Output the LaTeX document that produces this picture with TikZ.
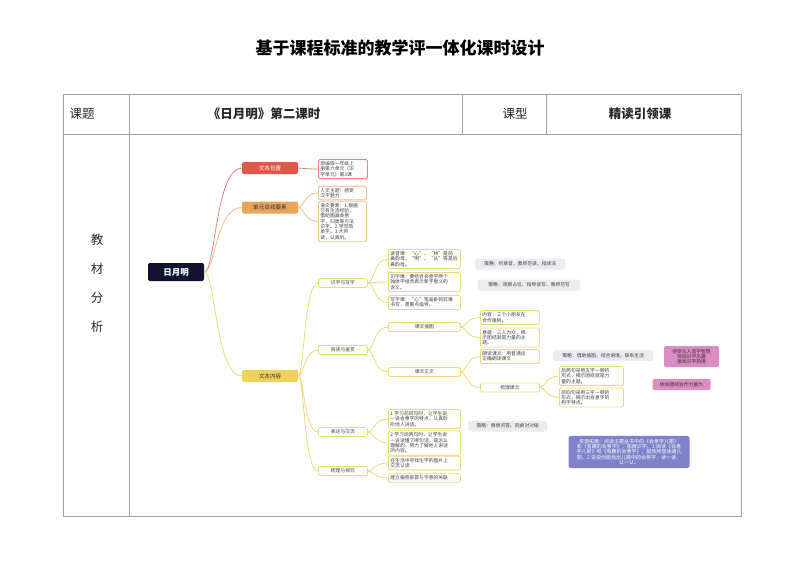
\documentclass[tikz,border=0pt]{standalone}
\usepackage{fontspec}
\setmainfont{Noto Sans CJK SC}
\usepackage{xcolor}
\usepackage{tikz}
\usetikzlibrary{calc}
\definecolor{navy}{HTML}{0F1230}
\definecolor{redfill}{HTML}{E2574C}
\definecolor{orangefill}{HTML}{E9A45A}
\definecolor{yellowfill}{HTML}{EFD25A}
\definecolor{redline}{HTML}{E9847A}
\definecolor{orangeline}{HTML}{F1C086}
\definecolor{yellowline}{HTML}{F0D878}
\definecolor{hintgray}{HTML}{ECECF0}
\definecolor{pinkfill}{HTML}{DC8CC4}
\definecolor{purplefill}{HTML}{7E82CA}
\definecolor{gridgray}{HTML}{A0A0A0}
\newcommand\leaffont{\fontsize{4.8pt}{5.3pt}\selectfont}

\begin{document}
\begin{tikzpicture}[x=1pt,y=-1pt,
  tableline/.style={draw=gridgray,line width=0.6pt},
  cell/.style={font=\fontsize{12.5}{14}\selectfont,text=black!85},
  root/.style={fill=navy,text=white,rounded corners=2pt,minimum width=56pt,minimum height=18pt,font=\fontsize{8.5}{9}\selectfont\bfseries},
  topic/.style={rounded corners=2pt,minimum width=56pt,minimum height=12pt,inner sep=1pt,font=\fontsize{5.6}{6}\selectfont},
  sub/.style={draw=yellowline,line width=0.8pt,fill=white,rounded corners=1.5pt,minimum height=9pt,inner sep=1pt,anchor=west,font=\leaffont,text=black!75},
  leaf/.style={draw=#1,line width=0.8pt,fill=white,rounded corners=1.5pt,align=left,inner sep=2pt,anchor=west,font=\leaffont,text=black!75},
  leaf/.default=yellowline,
  hint/.style={fill=hintgray,rounded corners=2pt,anchor=west,inner sep=2pt,minimum height=11pt,font=\leaffont,text=black!75},
  link/.style={line width=0.8pt,to path={.. controls ($(\tikztostart)!0.3!(\tikztostart-|\tikztotarget)$) and ($(\tikztostart|-\tikztotarget)!0.3!(\tikztotarget)$) .. (\tikztotarget)}}]
\useasboundingbox (0,0) rectangle (800,566);
% title and table
\node[font=\fontsize{17}{20}\selectfont\bfseries] (title) at (400,48) {基于课程标准的教学评一体化课时设计};
\draw[tableline] (63,94) rectangle (741,516) (63,134) -- (741,134) (129,94) -- (129,516)
  (462,94) -- (462,134) (546,94) -- (546,134);
\node[cell] (ketiname) at (82,114) {课题};
\node[cell,font=\fontsize{12.5}{14}\selectfont\bfseries] (keti) at (264,114) {《日月明》第二课时};
\node[cell] (kexingname) at (515,114) {课型};
\node[cell,font=\fontsize{12.5}{14}\selectfont\bfseries] (kexing) at (640,114) {精读引领课};
\foreach \ch [count=\i] in {教,材,分,析}
  \node[cell] (side\i) at (97,211+29*\i) {\ch};
% mind map
\node[root] (root) at (176,272) {日月明};
\node[topic,fill=redfill,text=white] (pos) at (270,168) {文本位置};
\node[topic,fill=orangefill,text=black!80] (dual) at (270,207.5) {单元双线要素};
\node[topic,fill=yellowfill,text=black!80] (content) at (270,376) {文本内容};

\node[leaf=redline,text width=45pt] (pos1) at (318,169) {部编版一年级上\\册第六单元（识\\字单元）第3课};
\node[leaf=orangeline,text width=44pt] (dual1) at (318,193) {人文主题：感受\\汉字魅力};
\node[leaf=orangeline,text width=44pt] (dual2) at (318,221.5) {语文要素：1.根据\\已有生活经验，\\借助图画会意\\字，归类等方法\\识字。2.学写简\\单字。3.大声\\读，认真听。};

\node[sub,minimum width=49pt] (lit) at (318,283) {识字与写字};
\node[sub,minimum width=49pt] (read) at (318,350) {阅读与鉴赏};
\node[sub,minimum width=49pt] (expr) at (318,432) {表达与交流};
\node[sub,minimum width=49pt] (explore) at (318,471) {梳理与探究};

\node[leaf,text width=68pt] (lit1) at (388,259) {读音难：“心”、“林”是前\\鼻韵母，“明”、“从”等是后\\鼻韵母。};
\node[leaf,text width=68pt] (lit2) at (388,282) {识字难：要结合会意字两个\\独体字组合表示新字意义的\\含义。};
\node[leaf,text width=68pt] (lit3) at (388,302.5) {写字难：“心”笔画卧钩较难\\书写，需重点指导。};

\node[sub,minimum width=72pt] (pic) at (388,327) {课文插图};
\node[sub,minimum width=72pt] (txt) at (388,372) {课文正文};
\node[leaf,text width=55pt] (pic1) at (480,317.5) {内容：三个小朋友在\\合作植树。};
\node[leaf,text width=55pt] (pic2) at (480,337.5) {意蕴：三人为众，揭\\示团结就是力量的主\\题。};
\node[leaf,text width=55pt] (txt1) at (480,356.5) {朗读课文：用普通话\\正确朗读课文};
\node[sub,minimum width=59pt] (txt2) at (480,387.5) {梳理课文};
\node[leaf,text width=60pt] (sort1) at (559,376) {后两句采用五字一顿的\\形式，揭示团结就是力\\量的主题。};
\node[leaf,text width=60pt] (sort2) at (559,397.5) {前四句采用三字一顿的\\形式，揭示出会意字的\\构字特点。};

\node[leaf,text width=68pt] (expr1) at (388,419) {1.学习前四句时，让学生说\\一说会意字的特点，认真聆\\听他人讲话。};
\node[leaf,text width=68pt] (expr2) at (388,443) {2.学习后两句时，让学生说\\一说读懂了哪句话，是怎么\\理解的，努力了解他人讲话\\的内容。};
\node[leaf,text width=68pt] (explore1) at (388,463) {在生活中寻找生字的图片上\\交流认读};
\node[leaf,text width=68pt] (explore2) at (388,478) {建立偏旁部首与字意的关联};

% strategies and notes
\node[hint,minimum width=90pt] (hint1) at (475,264) {策略：听录音、教师范读、指读法};
\node[hint,minimum width=102pt] (hint2) at (478,285) {策略：观察占位、指导读写、教师范写};
\node[hint,minimum width=100pt] (hint3) at (553,355.5) {策略：借助插图、结合语境、联系生活};
\node[hint,minimum width=79pt] (hint4) at (468,426) {策略：情境问答、同桌对对碰};
\node[fill=pinkfill,rounded corners=2pt,minimum width=55pt,minimum height=21pt,inner sep=1.5pt,align=center,font=\leaffont,text=black!80] (goal1) at (691.5,356.5) {感受古人造字智慧\\体验识字乐趣\\激发识字热情};
\node[fill=pinkfill,rounded corners=2pt,minimum width=58pt,minimum height=11pt,inner sep=1.5pt,font=\leaffont,text=black!80] (goal2) at (681.5,384.5) {体会团结协作力量大};
\node[fill=purplefill,rounded corners=2.5pt,text width=115pt,minimum height=30pt,inner sep=3pt,align=center,font=\fontsize{5}{5.4}\selectfont,text=white] (extra) at (629,452) {资源拓展：阅读主题丛书中的《会意字儿歌》\\和《有趣的会意字》，拓展识字。1.阅读《会意\\字儿歌》和《有趣的会意字》，提炼所查读通儿\\歌。2.说说你能找出儿歌中的会意字，读一读，\\认一认。};

% branches
\draw[link,redline] (root.east) to (pos.west) (pos.east) to (pos1.west);
\draw[link,orangeline] (root.east) to (dual.west) (dual.east) to (dual1.west) (dual.east) to (dual2.west);
\draw[link,yellowline] (root.east) to (content.west);
\draw[link,yellowline] (content.east) to (lit.west) (content.east) to (read.west)
  (content.east) to (expr.west) (content.east) to (explore.west);
\draw[link,yellowline] (lit.east) to (lit1.west) (lit.east) to (lit2.west) (lit.east) to (lit3.west);
\draw[link,yellowline] (read.east) to (pic.west) (read.east) to (txt.west);
\draw[link,yellowline] (pic.east) to (pic1.west) (pic.east) to (pic2.west);
\draw[link,yellowline] (txt.east) to (txt1.west) (txt.east) to (txt2.west);
\draw[link,yellowline] (txt2.east) to (sort1.west) (txt2.east) to (sort2.west);
\draw[link,yellowline] (expr.east) to (expr1.west) (expr.east) to (expr2.west);
\draw[link,yellowline] (explore.east) to (explore1.west) (explore.east) to (explore2.west);
\end{tikzpicture}
\end{document}
